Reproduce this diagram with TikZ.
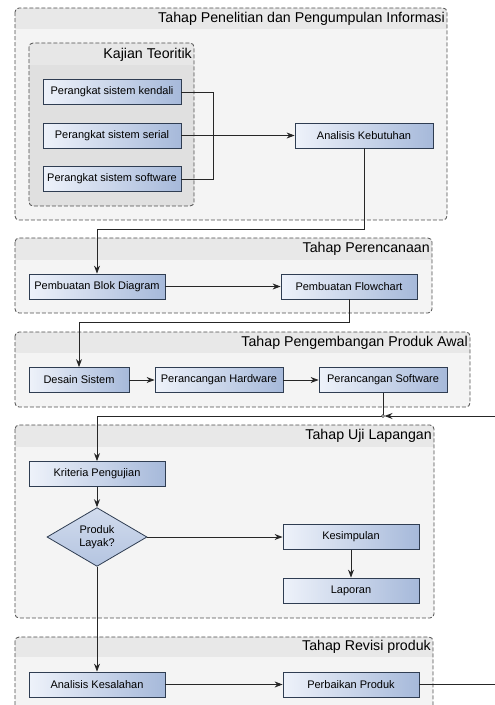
\documentclass[tikz,border=0pt]{standalone}
\usepackage{fontspec}
\setmainfont{Liberation Sans}
\usepackage{xcolor}
\usetikzlibrary{arrows.meta,shapes.geometric}

\definecolor{grpbody}{HTML}{F4F4F4}
\definecolor{grphead}{HTML}{E8E8E8}
\definecolor{kajbody}{HTML}{E0E0E0}
\definecolor{kajhead}{HTML}{E7E7E7}
\definecolor{boxleft}{HTML}{EEF2FA}
\definecolor{boxright}{HTML}{A6B9DA}
\definecolor{boxline}{HTML}{2F3D52}

\begin{document}
\begin{tikzpicture}[x=1pt,y=-1pt,
   groupline/.style={draw=black!70,line width=0.8pt,dash pattern=on 4pt off 2pt,rounded corners=4pt},
   grouptitle/.style={anchor=east,inner sep=0pt,font=\fontsize{14.2}{16}\selectfont},
   box/.style={draw=boxline,line width=0.8pt,rectangle,minimum height=25pt,inner sep=1pt,
      left color=boxleft,right color=boxright,font=\fontsize{11}{12}\selectfont},
   decision/.style={draw=boxline,line width=0.8pt,diamond,minimum width=100pt,minimum height=52pt,
      inner sep=0pt,align=center,top color=boxleft!60!boxright,bottom color=boxright!80!boxleft,
      font=\fontsize{11}{13}\selectfont},
   flow/.style={-{Stealth[length=8pt,width=6pt]},black!85,line width=0.9pt},
   link/.style={black!85,line width=0.9pt}]
\useasboundingbox (0,0) rectangle (495,705);
\clip (0,0) rectangle (495,705);

% phases
\foreach \xa/\ya/\xb/\yb/\yh in {15/8/447/220/29, 15/238/432/313/260,
   15/332/470/407/353, 15/425/434/618/447, 15/637/433/730/657}{
  \begin{scope}
    \clip[rounded corners=4pt] (\xa,\ya) rectangle (\xb,\yb);
    \fill[grpbody] (\xa,\ya) rectangle (\xb,\yb);
    \fill[grphead] (\xa,\ya) rectangle (\xb,\yh);
  \end{scope}
  \draw[groupline] (\xa,\ya) rectangle (\xb,\yb);
}
\begin{scope}
  \clip[rounded corners=4pt] (29,43) rectangle (194,206);
  \fill[kajbody] (29,43) rectangle (194,206);
  \fill[kajhead] (29,43) rectangle (194,65);
\end{scope}
\draw[groupline] (29,43) rectangle (194,206);

\node[grouptitle] (tInfo) at (445,19) {Tahap Penelitian dan Pengumpulan Informasi};
\node[grouptitle] (tKajian) at (192,55) {Kajian Teoritik};
\node[grouptitle] (tRencana) at (430,249) {Tahap Perencanaan};
\node[grouptitle] (tAwal) at (468,343) {Tahap Pengembangan Produk Awal};
\node[grouptitle] (tUji) at (432,436) {Tahap Uji Lapangan};
\node[grouptitle] (tRevisi) at (431,647) {Tahap Revisi produk};

% blocks
\node[box,minimum width=138pt] (kendali) at (112,92) {Perangkat sistem kendali};
\node[box,minimum width=138pt] (serial) at (112,135.5) {Perangkat sistem serial};
\node[box,minimum width=138pt] (software) at (112,179) {Perangkat sistem software};
\node[box,minimum width=138pt] (analisis) at (364,135.5) {Analisis Kebutuhan};
\node[box,minimum width=136pt] (blok) at (97,286.5) {Pembuatan Blok Diagram};
\node[box,minimum width=136pt] (flowchart) at (349,286.5) {Pembuatan Flowchart};
\node[box,minimum width=100pt] (desain) at (79,380) {Desain Sistem};
\node[box,minimum width=128pt] (hardware) at (219,380) {Perancangan Hardware};
\node[box,minimum width=128pt] (swdesign) at (383,380) {Perancangan Software};
\node[box,minimum width=136pt] (kriteria) at (97,474) {Kriteria Pengujian};
\node[decision] (layak) at (97,537) {Produk\\Layak?};
\node[box,minimum width=136pt] (kesimpulan) at (351,537) {Kesimpulan};
\node[box,minimum width=136pt] (laporan) at (351,590.5) {Laporan};
\node[box,minimum width=136pt] (kesalahan) at (97,684.5) {Analisis Kesalahan};
\node[box,minimum width=136pt] (perbaikan) at (351,684.5) {Perbaikan Produk};

% connectors
\coordinate (bus) at (213,135.5);
\coordinate (bendA) at (364,229);
\coordinate (bendB) at (349,322);
\coordinate (junction) at (383,416);
\coordinate (backA) at (510,684.5);
\coordinate (backB) at (510,416);

\draw[link] (kendali.east) -| (bus);
\draw[link] (software.east) -| (bus);
\draw[flow] (serial.east) -- (analisis.west);
\draw[flow] (analisis.south) -- (bendA) -| (blok.north);
\draw[flow] (blok.east) -- (flowchart.west);
\draw[flow] (flowchart.south) -- (bendB) -| (desain.north);
\draw[flow] (desain.east) -- (hardware.west);
\draw[flow] (hardware.east) -- (swdesign.west);
\draw[flow] (swdesign.south) -- (junction) -| (kriteria.north);
\draw[flow] (kriteria.south) -- (layak.north);
\draw[flow] (layak.east) -- (kesimpulan.west);
\draw[flow] (kesimpulan.south) -- (laporan.north);
\draw[flow] (layak.south) -- (kesalahan.north);
\draw[flow] (kesalahan.east) -- (perbaikan.west);
\draw[flow,shorten >=1.5pt] (perbaikan.east) -- (backA) -- (backB) -- (junction);
\draw[black!85,fill=white] (junction) circle (1.5pt);
\end{tikzpicture}
\end{document}
